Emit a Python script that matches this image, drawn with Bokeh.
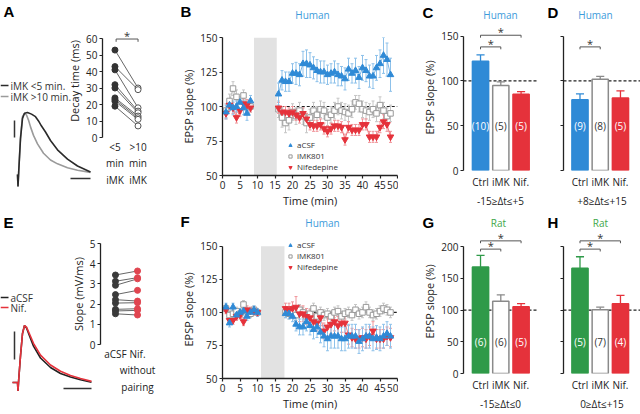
import numpy as np
from bokeh.plotting import figure
from bokeh.models import Range1d, Span, BoxAnnotation, FixedTicker, Legend, LegendItem
from bokeh.layouts import row, column
from bokeh.embed import file_html
from bokeh.resources import INLINE
from bokeh.core.properties import value

FONT = "Open Sans"
LFONT = "Liberation Sans"
BLUE = "#2f8ad6"; BLUE_L = "#8dc1ea"
RED = "#e5323b"; RED_L = "#f0959a"
GREEN = "#2f9a49"
GRAY = "#999999"; GRAY_L = "#c6c6c6"
DARK = "#333333"
T_BLUE = "#3d9bdb"; T_GREEN = "#3fa84a"

# ---------------- data ----------------
# A: example EPSPs (t in ms, v in mV)
A_t_early = [0, 0.5, 1.2, 3, 5, 7, 10, 14, 18, 21, 24, 28, 33, 40, 50, 60, 73]
A_v_early = [0, -1.4, 0.3, 4.2, 6.6, 7.2, 7.3, 7.1, 6.8, 6.3, 5.7, 5.0, 4.0, 2.9, 1.8, 1.0, 0.3]
A_t_late = [0, 0.5, 1.2, 3, 5, 7, 9, 11, 13, 16, 20, 26, 33, 40, 50, 60, 73]
A_v_late = [0, -1.4, 0.3, 4.4, 6.8, 7.2, 7.0, 6.4, 5.6, 4.6, 3.6, 2.5, 1.7, 1.25, 0.8, 0.5, 0.25]
# A: decay times (ms)
A_decay_early = [53, 43, 41, 32, 30, 24, 23, 22, 19]
A_decay_late = [30, 29, 18, 16, 15, 13, 12, 11, 7]
A_cats = ["<5\nmin\niMK", ">10\nmin\niMK"]

# E: example EPSPs
E_t = [-5, 0, 0.5, 1.2, 3, 5, 7, 9, 13, 16, 23, 33, 43, 53, 63, 74]
E_v_acsf = [0, 0, -0.6, 0.2, 1.9, 3.5, 4.07, 3.9, 3.14, 2.6, 1.75, 1.07, 0.64, 0.4, 0.2, 0.02]
E_v_nif = [0, 0, -0.6, 0.2, 1.9, 3.5, 4.07, 3.95, 3.3, 2.8, 1.95, 1.25, 0.8, 0.5, 0.28, 0.08]
# E: slopes (mV/ms)
E_slope_acsf = [3.44, 3.13, 2.93, 2.47, 2.22, 2.05, 1.74, 1.66, 1.52]
E_slope_nif = [3.64, 3.31, 3.25, 2.68, 2.15, 2.07, 1.77, 1.69, 1.46]
E_cats = ["aCSF", "Nif.\nwithout\npairing"]

# B: time course (Human)
B_t_pre = [1, 2, 3, 4, 5, 6, 7, 8]
B_t_post = [16, 17, 18, 19, 20, 21, 22, 23, 24, 25, 26, 27, 28, 29, 30, 31, 32,
            33, 34, 35, 36, 37, 38, 39, 40, 41, 42, 43, 44, 45, 46, 47, 48]
B_acsf_pre = [96, 101, 99, 100, 103, 99, 95, 104]
B_acsf_pre_e = [5, 4, 5, 4, 4, 5, 5, 4]
B_acsf_post = [109, 119, 118, 118, 124, 124, 123, 131, 131, 130, 128, 126, 125, 125, 123, 124, 125,
               123, 122, 120, 127, 124, 126, 121, 128, 126, 122, 122, 128, 131, 137, 134, 123]
B_acsf_post_e = [8, 7, 7, 7, 7, 8, 8, 9, 10, 9, 8, 8, 8, 8, 7, 7, 8,
                 8, 7, 8, 8, 7, 9, 8, 9, 8, 8, 9, 9, 10, 13, 12, 12]
B_imk_pre = [97, 104, 113, 107, 100, 108, 101, 100]
B_imk_pre_e = [5, 5, 5, 5, 5, 4, 4, 4]
B_imk_post = [98, 92, 88, 90, 96, 93, 97, 93, 88, 92, 97, 94, 98, 97, 92, 94, 97,
              100, 97, 96, 95, 98, 103, 102, 98, 97, 96, 98, 95, 101, 97, 93, 95]
B_imk_post_e = [6, 7, 7, 7, 6, 6, 6, 6, 7, 6, 6, 6, 6, 6, 6, 6, 6,
                6, 6, 6, 6, 6, 5, 6, 6, 6, 6, 6, 6, 6, 6, 6, 6]
B_nif_pre = [95, 101, 99, 92, 97, 102, 101, 99]
B_nif_pre_e = [4, 4, 4, 4, 4, 4, 4, 3]
B_nif_post = [99, 96, 96, 95, 96, 94, 92, 95, 91, 87, 86, 86, 87, 84, 82, 84, 86,
              86, 85, 76, 85, 83, 83, 83, 87, 87, 78, 78, 78, 85, 89, 87, 78]
B_nif_post_e = [4, 4, 4, 4, 4, 4, 4, 4, 4, 4, 4, 4, 4, 4, 4, 4, 4,
                4, 4, 4, 4, 4, 4, 4, 4, 4, 4, 4, 4, 4, 5, 5, 4]
B_pairing = (9, 15.5)

# F: time course (Human, no pairing)
F_t_pre = [1, 2, 3, 4, 5, 6, 7, 8, 9, 10]
F_t_post = [18, 19, 20, 21, 22, 23, 24, 25, 26, 27, 28, 29, 30, 31, 32, 33,
            34, 35, 36, 37, 38, 39, 40, 41, 42, 43, 44, 45, 46, 47, 48]
F_acsf_pre = [104, 92, 104, 98, 100, 101, 97, 100, 102, 100]
F_acsf_pre_e = [3, 3, 3, 3, 3, 3, 3, 3, 3, 3]
F_acsf_post = [99, 99, 97, 91, 89, 89, 93, 90, 87, 89, 85, 82, 80, 82, 82, 82,
               80, 80, 82, 82, 82, 78, 80, 82, 82, 80, 81, 80, 82, 84, 82]
F_acsf_post_e = [3, 4, 4, 5, 6, 6, 7, 7, 7, 8, 8, 8, 9, 9, 9, 9,
                 9, 9, 9, 9, 9, 9, 9, 9, 9, 9, 9, 9, 9, 9, 9]
F_imk_pre = [103, 98, 99, 101, 99, 106, 101, 99, 102, 100]
F_imk_pre_e = [3, 3, 3, 3, 3, 3, 3, 3, 3, 3]
F_imk_post = [100, 99, 101, 98, 102, 100, 97, 99, 103, 97, 100, 98, 99, 97, 100, 101,
              97, 99, 100, 98, 102, 99, 100, 104, 100, 98, 99, 101, 103, 102, 100]
F_imk_post_e = [4, 4, 4, 4, 4, 4, 4, 4, 4, 4, 4, 4, 4, 4, 4, 4,
                4, 4, 4, 4, 4, 4, 4, 4, 4, 4, 4, 4, 4, 4, 4]
F_nif_pre = [102, 94, 94, 97, 98, 93, 102, 101, 101, 100]
F_nif_pre_e = [3, 3, 3, 3, 3, 3, 3, 3, 3, 3]
F_nif_post = [103, 102, 103, 104, 99, 99, 97, 96, 93, 92, 96, 86, 89, 91, 93, 90,
              92, 92, 83, 81, 80, 80, 81, 80, 82, 86, 80, 80, 80, 82, 81]
F_nif_post_e = [4, 5, 5, 8, 6, 6, 6, 6, 6, 6, 6, 6, 7, 7, 7, 7,
                7, 7, 7, 7, 7, 7, 7, 7, 7, 7, 7, 7, 7, 7, 7]
F_pairing = (11, 17.7)

# Bar panels
BAR_CATS = ["Ctrl", "iMK", "Nif."]
C_vals = [122, 95, 85]; C_err = [7, 4, 3]; C_n = ["(10)", "(5)", "(5)"]
D_vals = [79, 102, 81]; D_err = [6.5, 3, 8]; D_n = ["(9)", "(8)", "(5)"]
G_vals = [168, 114, 105]; G_err = [18, 10, 5]; G_n = ["(6)", "(6)", "(5)"]
H_vals = [166, 100.5, 110]; H_err = [18, 4, 13]; H_n = ["(5)", "(7)", "(4)"]
C_sig = [(0, 1, 138), (0, 2, 151)]
D_sig = [(0, 1, 138)]
G_sig = [(0, 1, 196), (0, 2, 209)]
H_sig = [(0, 1, 196), (0, 2, 209)]
C_range = "-15≥Δt≤+5"; D_range = "+8≥Δt≤+15"
G_range = "-15≥Δt≤0"; H_range = "0≥Δt≤+15"

# panel letters / titles / trace legends (text, x, y in page pixels)
LETTERS = [("A", 3, 11), ("B", 180, 11), ("C", 422, 12), ("D", 547, 12),
           ("E", 3, 222), ("F", 180, 221), ("G", 422, 222), ("H", 547, 222)]
TITLES = [("Human", 312, 14, "blue"), ("Human", 500, 14, "blue"), ("Human", 595, 14, "blue"),
          ("Human", 322, 222, "blue"), ("Rat", 498, 222, "green"), ("Rat", 600, 222, "green")]
TRACE_LEG = [("iMK <5 min.", 85, "#2b2b2b"), ("iMK >10 min.", 96, "#9b9b9b"),
             ("aCSF", 297, "#222222"), ("Nif.", 307, RED)]

# ---------------- helpers ----------------
PLACED = []


def mk(l, t, w, h, bl, br, bt, bb, xr, yr, axes=True):
    kw = {} if axes else dict(x_axis_type=None, y_axis_type=None)
    p = figure(width=w, height=h, x_range=Range1d(*xr), y_range=Range1d(*yr),
               output_backend="svg", toolbar_location=None,
               min_border_left=bl, min_border_right=br, min_border_top=bt,
               min_border_bottom=bb, **kw)
    p.outline_line_color = None
    p.background_fill_color = None
    p.border_fill_color = None
    p.grid.visible = False
    if axes:
        for ax in p.axis:
            ax.axis_line_color = "#222222"
            ax.axis_line_width = 1.3
            ax.major_tick_line_color = "#222222"
            ax.major_tick_line_width = 1.2
            ax.major_tick_out = 3
            ax.major_tick_in = 0
            ax.minor_tick_line_color = None
            ax.major_label_text_font = FONT
            ax.major_label_text_font_size = "10px"
            ax.major_label_text_color = "#222222"
            ax.major_label_standoff = 2
            ax.axis_label_text_font = FONT
            ax.axis_label_text_font_size = "11px"
            ax.axis_label_text_font_style = "normal"
            ax.axis_label_text_color = "#222222"
            ax.axis_label_standoff = 1
    PLACED.append((p, l, t, w, h))
    return p


def star(p, x, y):
    p.text(x=[x], y=[y], text=["*"], text_align="center", text_baseline="middle",
           text_font=value(FONT), text_font_size="11px", text_color=DARK)


def series(p, tp, vp, ep, tq, vq, eq, color, ecolor):
    for t, v, e in ((tp, vp, ep), (tq, vq, eq)):
        t = np.array(t, float); v = np.array(v, float); e = np.array(e, float)
        p.segment(x0=t, x1=t, y0=v - e, y1=v + e, line_color=ecolor, line_width=1)
        p.scatter(x=t, y=v + e, marker="dash", size=3, line_color=ecolor, line_width=1)
        p.scatter(x=t, y=v - e, marker="dash", size=3, line_color=ecolor, line_width=1)
        p.line(t, v, line_color=color, line_width=0.8, line_alpha=0.8)
    return (tp + tq, vp + vq)


def timecourse(p, pre_t, post_t, acsf, imk, nif, pairing, legend_loc):
    p.add_layout(BoxAnnotation(left=pairing[0], right=pairing[1], bottom=50, top=150,
                               fill_color="#e2e2e2", fill_alpha=1, line_color=None,
                               level="underlay"))
    p.segment(x0=[post_t[0] - 0.5], x1=[50], y0=[100], y1=[100], line_color="#222222",
              line_dash="3 2", line_width=1.2)
    xs_i, ys_i = series(p, pre_t, imk[0], imk[1], post_t, imk[2], imk[3], GRAY, GRAY_L)
    xs_n, ys_n = series(p, pre_t, nif[0], nif[1], post_t, nif[2], nif[3], RED, RED_L)
    xs_a, ys_a = series(p, pre_t, acsf[0], acsf[1], post_t, acsf[2], acsf[3], BLUE, BLUE_L)
    ri = p.scatter(x=xs_i, y=ys_i, marker="square", size=5.5, fill_color="white",
                   line_color=GRAY, line_width=1)
    rn = p.scatter(x=xs_n, y=ys_n, marker="inverted_triangle", size=6.5, fill_color=RED,
                   line_color=RED)
    ra = p.scatter(x=xs_a, y=ys_a, marker="triangle", size=6.5, fill_color=BLUE,
                   line_color=BLUE)
    leg = Legend(items=[LegendItem(label="aCSF", renderers=[ra]),
                        LegendItem(label="iMK801", renderers=[ri]),
                        LegendItem(label="Nifedepine", renderers=[rn])],
                 location=legend_loc, label_text_font=FONT, label_text_font_size="8px",
                 label_text_color=DARK, glyph_width=8, glyph_height=10, label_height=10,
                 spacing=0, padding=0, margin=0, border_line_color=None,
                 background_fill_alpha=0, label_standoff=3)
    p.add_layout(leg)
    p.xaxis.ticker = FixedTicker(ticks=[0, 5, 10, 15, 20, 25, 30, 35, 40, 45, 50])
    p.yaxis.ticker = FixedTicker(ticks=[50, 75, 100, 125, 150])
    p.yaxis.bounds = (50, 150)
    p.xaxis.axis_label = "Time (min)"
    p.yaxis.axis_label = "EPSP slope (%)"


def barpanel(p, vals, errs, ns, ctrl_color, sigs, xlabel, ymax, with_labels, px_per_unit):
    x = [0, 1, 2]
    fills = [ctrl_color, "white", RED]
    lines = [ctrl_color, "#8a8a8a", RED]
    p.add_layout(Span(location=100, dimension="width", line_color="#222222",
                      line_dash="3 2", line_width=1.2, level="underlay"))
    v = np.array(vals, float); e = np.array(errs, float)
    xa = np.array(x, float)
    p.segment(x0=xa, x1=xa, y0=v, y1=v + e, line_color=lines, line_width=1.3)
    p.segment(x0=xa - 0.2, x1=xa + 0.2, y0=v + e, y1=v + e, line_color=lines, line_width=1.3)
    p.vbar(x=x, top=vals, width=0.8, fill_color=fills, line_color=lines, line_width=1.5)
    p.text(x=x, y=[50, 50, 50], text=ns, text_align="center", text_baseline="middle",
           text_font=value(FONT), text_font_size="10px",
           text_color=["white", DARK, "white"])
    dh = 2.5 / px_per_unit
    for a, b, hgt in sigs:
        p.multi_line(xs=[[a, a, b, b]], ys=[[hgt - dh, hgt, hgt, hgt - dh]],
                     line_color="#555555", line_width=1)
        star(p, (a + b) / 2, hgt + 3.5 / px_per_unit)
    p.xaxis.ticker = FixedTicker(ticks=[0, 1, 2])
    p.xaxis.major_label_overrides = {0: BAR_CATS[0], 1: BAR_CATS[1], 2: BAR_CATS[2]}
    p.xaxis.axis_line_color = None
    p.xaxis.major_tick_line_color = None
    p.xaxis.major_tick_out = 0
    p.xaxis.major_label_standoff = 4
    p.xaxis.axis_label = xlabel
    p.xaxis.axis_label_text_font_size = "10px"
    p.xaxis.axis_label_standoff = 2
    ticks = list(range(0, ymax + 1, 50))
    p.yaxis.ticker = FixedTicker(ticks=ticks)
    p.yaxis.bounds = (0, ymax)
    if with_labels:
        p.yaxis.axis_label = "EPSP slope (%)"
    else:
        p.yaxis.major_label_overrides = {k: "" for k in ticks}


# ---------------- panel A ----------------
pAt = mk(0, 60, 92, 140, 0, 0, 0, 0, (-17, 75), (-3.06, 13.41), axes=False)
pAt.line(A_t_late, A_v_late, line_color="#9b9b9b", line_width=1.6)
pAt.line(A_t_early, A_v_early, line_color="#2b2b2b", line_width=1.6)
pAt.segment(x0=[-3, 53], x1=[-3, 73], y0=[4.35, -0.47], y1=[6.35, -0.47],
            line_color="#333333", line_width=1.5)

pAs = mk(64, 20, 92, 185, 36, 6, 4, 68, (-0.54, 1.54), (0, 68.5))
pAs.segment(x0=[0] * 9, x1=[1] * 9, y0=A_decay_early, y1=A_decay_late,
            line_color="#555555", line_width=0.9)
pAs.scatter(x=[0] * 9, y=A_decay_early, marker="circle", size=6, fill_color="#333333",
            line_color="#333333")
pAs.scatter(x=[1] * 9, y=A_decay_late, marker="circle", size=6, fill_color="white",
            line_color="#555555")
pAs.multi_line(xs=[[0.05, 0.05, 1.0, 1.0]], ys=[[58, 59.7, 59.7, 58]], line_color="#555555",
               line_width=1)
star(pAs, 0.52, 59.7 + 3.5 / 1.65)
pAs.yaxis.ticker = FixedTicker(ticks=[0, 10, 20, 30, 40, 50, 60])
pAs.yaxis.bounds = (0, 60)
pAs.yaxis.axis_label = "Decay time (ms)"
pAs.xaxis.ticker = FixedTicker(ticks=[0, 1])
pAs.xaxis.major_label_overrides = {0: A_cats[0], 1: A_cats[1]}
pAs.xaxis.axis_line_color = None
pAs.xaxis.major_tick_line_color = None
pAs.xaxis.major_tick_out = 0

# ---------------- panel B ----------------
pB = mk(156, 24, 242, 186, 66, 1, 13, 35, (0, 50), (50, 150))
timecourse(pB, B_t_pre, B_t_post,
           (B_acsf_pre, B_acsf_pre_e, B_acsf_post, B_acsf_post_e),
           (B_imk_pre, B_imk_pre_e, B_imk_post, B_imk_post_e),
           (B_nif_pre, B_nif_pre_e, B_nif_post, B_nif_post_e), B_pairing, (64, 3))

# ---------------- panels C, D ----------------
pC = mk(400, 20, 140, 190, 63, 3, 4, 35, (-0.84, 2.81), (0, 163))
barpanel(pC, C_vals, C_err, C_n, BLUE, C_sig, C_range, 150, True, 151 / 163)
pD = mk(540, 20, 100, 190, 23, 0, 4, 35, (-0.815, 2.99), (0, 163))
barpanel(pD, D_vals, D_err, D_n, BLUE, D_sig, D_range, 150, False, 151 / 163)

# ---------------- panel E ----------------
pEt = mk(0, 318, 92, 80, 0, 0, 0, 0, (-17, 75), (-1.143, 4.571), axes=False)
pEt.line(E_t, E_v_acsf, line_color="#222222", line_width=1.6)
pEt.line(E_t, E_v_nif, line_color=RED, line_width=1.6)
pEt.segment(x0=[-3, 46], x1=[-3, 74], y0=[1.64, -0.43], y1=[3.64, -0.43],
            line_color="#333333", line_width=1.5)

pEs = mk(64, 238, 108, 174, 36, 20, 5, 68, (-0.68, 1.68), (0, 5))
pEs.segment(x0=[0] * 9, x1=[1] * 9, y0=E_slope_acsf, y1=E_slope_nif, line_color="#555555",
            line_width=0.9)
pEs.scatter(x=[0] * 9, y=E_slope_acsf, marker="circle", size=6, fill_color="#3a3a3a",
            line_color="#3a3a3a")
pEs.scatter(x=[1] * 9, y=E_slope_nif, marker="circle", size=6, fill_color="#e04550",
            line_color="#e04550")
pEs.yaxis.ticker = FixedTicker(ticks=[0, 1, 2, 3, 4, 5])
pEs.yaxis.axis_label = "Slope (mV/ms)"
pEs.xaxis.ticker = FixedTicker(ticks=[0, 1])
pEs.xaxis.major_label_overrides = {0: E_cats[0], 1: E_cats[1]}
pEs.xaxis.axis_line_color = None
pEs.xaxis.major_tick_line_color = None
pEs.xaxis.major_tick_out = 0

# ---------------- panel F ----------------
pF = mk(172, 240, 226, 173, 50, 1, 0, 32, (0, 50), (50, 154.44))
timecourse(pF, F_t_pre, F_t_post,
           (F_acsf_pre, F_acsf_pre_e, F_acsf_post, F_acsf_post_e),
           (F_imk_pre, F_imk_pre_e, F_imk_post, F_imk_post_e),
           (F_nif_pre, F_nif_pre_e, F_nif_post, F_nif_post_e), F_pairing, (64, 106))

# ---------------- panels G, H ----------------
pG = mk(400, 225, 140, 188, 63, 3, 4, 32, (-0.84, 2.81), (0, 226.9))
barpanel(pG, G_vals, G_err, G_n, GREEN, G_sig, G_range, 200, True, 152 / 226.9)
pH = mk(540, 225, 100, 188, 23, 0, 4, 32, (-0.815, 2.99), (0, 226.9))
barpanel(pH, H_vals, H_err, H_n, GREEN, H_sig, H_range, 200, False, 152 / 226.9)

# ---------------- text overlay (page pixel coordinates) ----------------
pT = mk(0, 0, 640, 414, 0, 0, 0, 0, (0, 640), (414, 0), axes=False)
pT.text(x=[l[1] for l in LETTERS], y=[l[2] for l in LETTERS], text=[l[0] for l in LETTERS],
        text_font=value(LFONT), text_font_size="15px", text_font_style="bold",
        text_baseline="middle", text_align="left", text_color="#000000")
pT.text(x=[t[1] for t in TITLES], y=[t[2] for t in TITLES], text=[t[0] for t in TITLES],
        text_font=value(FONT), text_font_size="10px", text_baseline="middle",
        text_align="center", text_color=[T_BLUE if t[3] == "blue" else T_GREEN for t in TITLES])
pT.segment(x0=[0] * 4, x1=[8] * 4, y0=[t[1] for t in TRACE_LEG], y1=[t[1] for t in TRACE_LEG],
           line_color=[t[2] for t in TRACE_LEG], line_width=1.5)
pT.text(x=[10] * 4, y=[t[1] for t in TRACE_LEG], text=[t[0] for t in TRACE_LEG],
        text_font=value(FONT), text_font_size="10px", text_baseline="middle",
        text_align="left", text_color="#333333")

# ---------------- absolute placement ----------------
PLACED.sort(key=lambda it: it[2] + it[4])
rows = []
prev = 0
for p, l, t, w, h in PLACED:
    r = row(p)
    r.margin = (t - prev, 0, 0, l)
    rows.append(r)
    prev = t + h
layout = column(*rows)

open("out.html", "w").write(file_html(layout, INLINE))
